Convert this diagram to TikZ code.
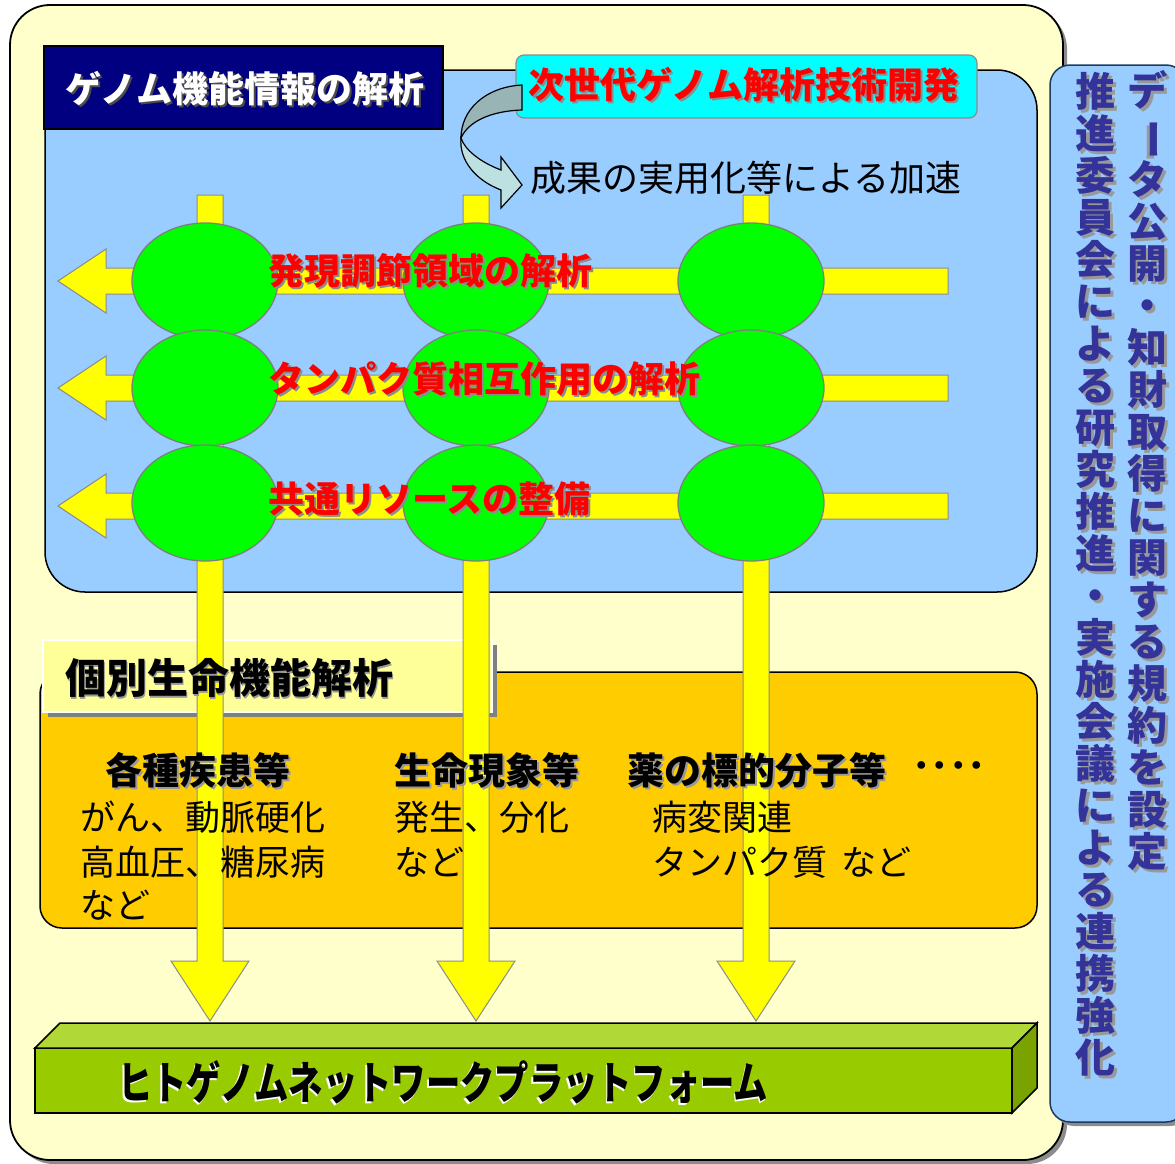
\documentclass[tikz,border=0pt]{standalone}
\usepackage{fontspec}
\setmainfont{Noto Sans CJK JP}
\usepackage{graphicx}
\definecolor{outer}{HTML}{FFFFCC}
\definecolor{blu}{HTML}{99CCFF}
\definecolor{navy}{HTML}{000080}
\definecolor{navyb}{HTML}{1F3A60}
\definecolor{cyn}{HTML}{00FFFF}
\definecolor{orng}{HTML}{FFCC00}
\definecolor{ltyel}{HTML}{FFFF99}
\definecolor{yel}{HTML}{FFFF00}
\definecolor{grn}{HTML}{00FF00}
\definecolor{ygray}{HTML}{8C8C8C}
\definecolor{egray}{HTML}{7F7F7F}
\definecolor{arrA}{HTML}{98B4B4}
\definecolor{arrB}{HTML}{BDE0E0}
\definecolor{pfront}{HTML}{99CC00}
\definecolor{ptop}{HTML}{B0D836}
\definecolor{pright}{HTML}{7AA300}
\definecolor{vtc}{HTML}{333399}
\definecolor{redt}{HTML}{FF0000}
\newcommand\shd[5]{\leavevmode\rlap{\kern#1\raisebox{#2}{\textcolor{#3}{#5}}}\textcolor{#4}{#5}}
\newcommand\vs[1]{\shd{3pt}{-3pt}{black!40}{vtc}{#1}}
\begin{document}
\begin{tikzpicture}[x=1pt,y=-1pt,
  ybar/.style={fill=yel,draw=ygray,line width=1pt},
  gell/.style={fill=grn,draw=egray,line width=1.3pt},
  lbl/.style={inner sep=0pt,anchor=west},
  vt/.style={inner sep=0pt,anchor=north,align=center,font=\bfseries\fontsize{40}{42}\selectfont},
  rlab/.style={lbl,font=\bfseries\fontsize{36}{36}\selectfont},
  olab/.style={lbl,font=\fontsize{35}{35}\selectfont},
  ohead/.style={lbl,font=\bfseries\fontsize{37}{37}\selectfont}]
\useasboundingbox (0,0) rectangle (1175,1163);
% outer frame
\fill[black!45,rounded corners=40pt] (14,9) rectangle (1067,1164);
\draw[fill=outer,line width=1.8pt,rounded corners=40pt] (10,5) rectangle (1063,1160);
% right blue box
\fill[black!45,rounded corners=20pt] (1054,69) rectangle (1190,1126);
\draw[fill=blu,draw=navyb,line width=1.5pt,rounded corners=20pt] (1050,65) rectangle (1186,1122);
% blue panel
\draw[fill=blu,line width=1.5pt,rounded corners=40pt] (45,70) rectangle (1037,592);
% navy title box
\draw[fill=navy,line width=1.5pt] (44,46) rectangle (443,129);
% cyan box
\draw[fill=cyn,draw=black!45,line width=1.2pt,rounded corners=8pt] (516,55) rectangle (977,118);
% curved arrow
\draw[fill=arrA,line width=1.2pt] (522,85) .. controls (485,87) and (461,110) .. (461,138) .. controls (468,122) and (490,111) .. (522,110) -- cycle;
\draw[fill=arrB,line width=1.2pt] (461,138) .. controls (459,160) and (475,180) .. (501,190) -- (501,208) -- (522,185) -- (501,157) -- (501,170) .. controls (480,162) and (465,150) .. (461,138) -- cycle;
% orange box
\draw[fill=orng,line width=1.5pt,rounded corners=22pt] (40,672) rectangle (1037,928);
% second title box
\fill[black!50] (48,645) rectangle (497,717);
\draw[fill=ltyel,draw=white,line width=1.2pt] (43,640) rectangle (492,712);
% vertical arrows
\foreach \c in {210,476,756}
  \draw[ybar] (\c-13,195) -- (\c+13,195) -- (\c+13,961) -- (\c+39,961) -- (\c,1021) -- (\c-39,961) -- (\c-13,961) -- cycle;
% horizontal arrows
\foreach \r in {281,388,506}
  \draw[ybar] (948,\r-13) -- (106,\r-13) -- (106,\r-32) -- (58,\r) -- (106,\r+32) -- (106,\r+13) -- (948,\r+13) -- cycle;
% ellipses
\foreach \r in {281,388,503}
  \foreach \c in {205,476,751}
    \draw[gell] (\c,\r) ellipse [x radius=73pt, y radius=58pt];
% platform
\draw[fill=pfront,line width=1.5pt] (35,1048) rectangle (1012,1113);
\draw[fill=ptop,line width=1.5pt] (35,1048) -- (60,1023) -- (1037,1023) -- (1012,1048) -- cycle;
\draw[fill=pright,line width=1.5pt] (1012,1048) -- (1037,1023) -- (1037,1088) -- (1012,1113) -- cycle;
% texts
\node[rlab] (t1) at (65,90) {\shd{2pt}{-2pt}{black!70}{white}{ゲノム機能情報の解析}};
\node[rlab] (t2) at (528,86) {\shd{2pt}{-2pt}{black!45}{redt}{次世代ゲノム解析技術開発}};
\node[lbl,font=\fontsize{36}{36}\selectfont] (t3) at (530,178) {成果の実用化等による加速};
\node[rlab] (r1) at (268,272) {\shd{2pt}{-2pt}{black!45}{redt}{発現調節領域の解析}};
\node[rlab] (r2) at (268,380) {\shd{2pt}{-2pt}{black!45}{redt}{タンパク質相互作用の解析}};
\node[rlab] (r3) at (268,500) {\shd{2pt}{-2pt}{black!45}{redt}{共通リソースの整備}};
\node[lbl,font=\bfseries\fontsize{41}{41}\selectfont] (t4) at (65,679) {\shd{1.5pt}{-1.5pt}{black!40}{black}{個別生命機能解析}};
\node[ohead] (h1) at (105,771) {\shd{2pt}{-2pt}{black!40}{black}{各種疾患等}};
\node[olab] (a1) at (80,817) {がん、動脈硬化};
\node[olab] (a2) at (80,862) {高血圧、糖尿病};
\node[olab] (a3) at (80,905) {など};
\node[ohead] (h2) at (394,771) {\shd{2pt}{-2pt}{black!40}{black}{生命現象等}};
\node[olab] (b1) at (394,817) {発生、分化};
\node[olab] (b2) at (394,862) {など};
\node[ohead] (h3) at (627,771) {\shd{2pt}{-2pt}{black!40}{black}{薬の標的分子等}};
\node[ohead] (h4) at (912,771) {････};
\node[olab] (c1) at (652,817) {病変関連};
\node[olab] (c2) at (652,862) {タンパク質\hspace{14pt}など};
\node[lbl,font=\bfseries\fontsize{44}{44}\selectfont] (pf) at (118,1083) {\scalebox{0.78}[1.02]{\shd{-2pt}{-2pt}{white}{black}{ヒトゲノムネットワークプラットフォーム}}};
% vertical texts
\node[vt] (v1) at (1147,70) {\vs{デ}\\\rotatebox[origin=c]{-90}{\vs{ー}}\\\vs{タ}\\\vs{公}\\\vs{開}\\\vs{・}\\\vs{知}\\\vs{財}\\\vs{取}\\\vs{得}\\\vs{に}\\\vs{関}\\\vs{す}\\\vs{る}\\\vs{規}\\\vs{約}\\\vs{を}\\\vs{設}\\\vs{定}};
\node[vt] (v2) at (1095,72) {\vs{推}\\\vs{進}\\\vs{委}\\\vs{員}\\\vs{会}\\\vs{に}\\\vs{よ}\\\vs{る}\\\vs{研}\\\vs{究}\\\vs{推}\\\vs{進}\\\vs{・}\\\vs{実}\\\vs{施}\\\vs{会}\\\vs{議}\\\vs{に}\\\vs{よ}\\\vs{る}\\\vs{連}\\\vs{携}\\\vs{強}\\\vs{化}};
\end{tikzpicture}
\end{document}
